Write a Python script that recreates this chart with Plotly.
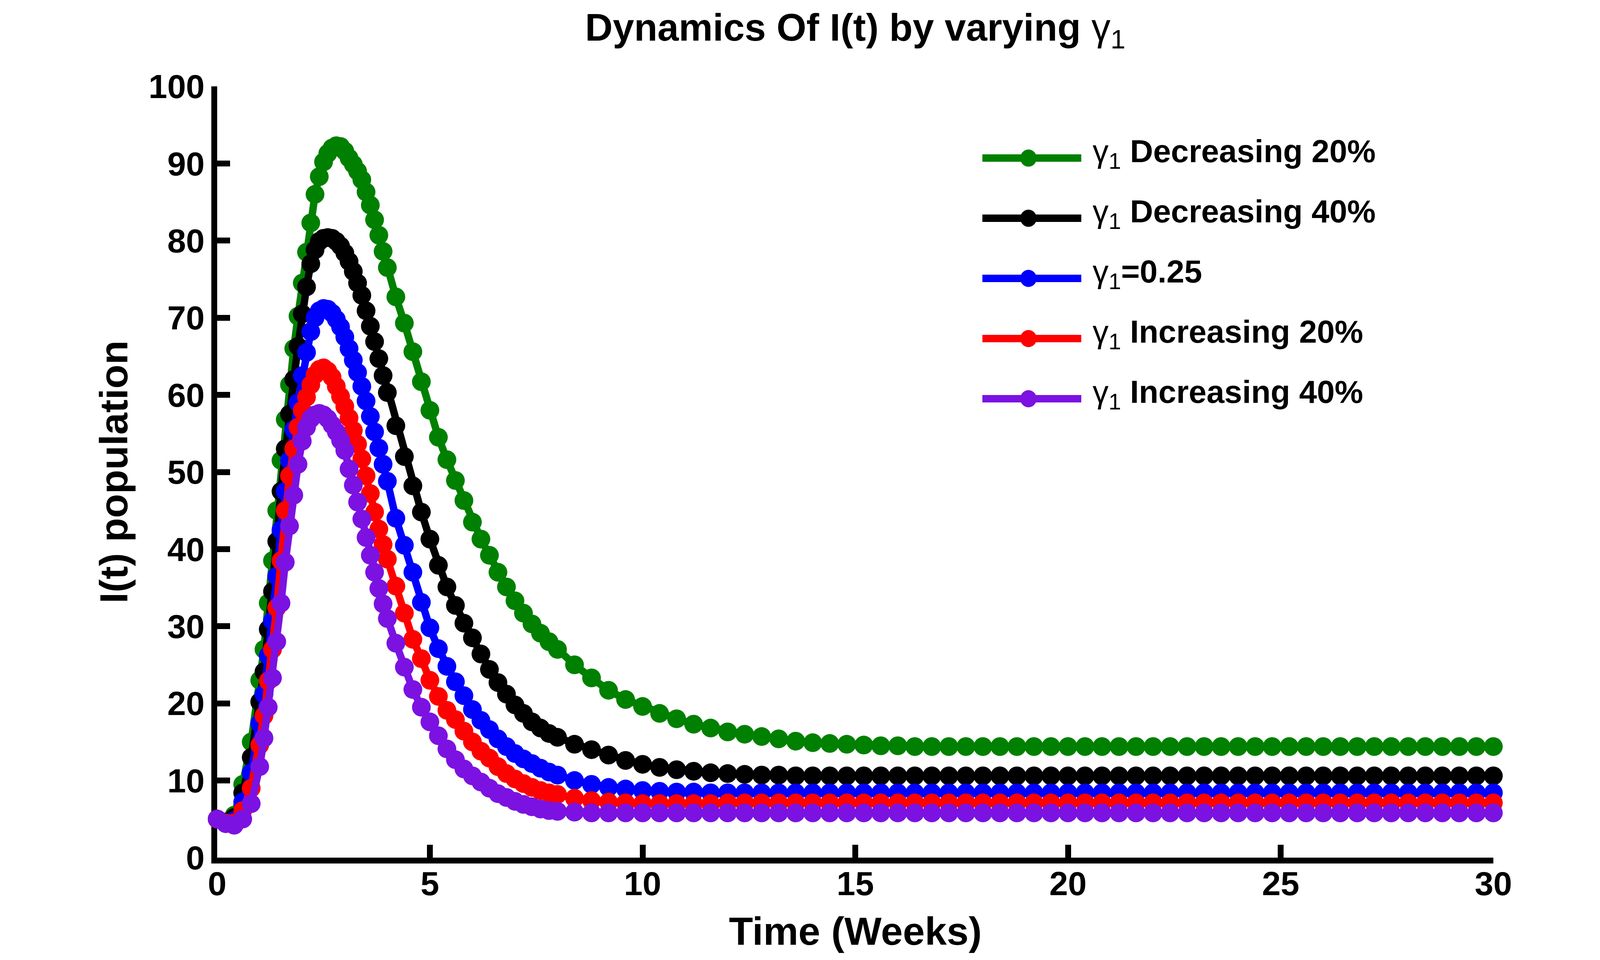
import plotly.graph_objects as go

# time grid (weeks) and I(t) readings for each gamma_1 setting
time_weeks = [
    0.0, 0.2, 0.4, 0.6, 0.8,
    1.0, 1.1, 1.2, 1.3, 1.4, 1.5, 1.6, 1.7, 1.8, 1.9,
    2.0, 2.1, 2.2, 2.3, 2.4, 2.5, 2.6, 2.7, 2.8, 2.9,
    3.0, 3.1, 3.2, 3.3, 3.4, 3.5, 3.6, 3.7, 3.8, 3.9, 4.0,
    4.2, 4.4, 4.6, 4.8, 5.0, 5.2, 5.4, 5.6, 5.8, 6.0,
    6.2, 6.4, 6.6, 6.8, 7.0, 7.2, 7.4, 7.6, 7.8, 8.0,
    8.4, 8.8, 9.2, 9.6, 10.0, 10.4, 10.8, 11.2, 11.6, 12.0,
    12.4, 12.8, 13.2, 13.6, 14.0, 14.4, 14.8, 15.2, 15.6, 16.0,
    16.4, 16.8, 17.2, 17.6, 18.0, 18.4, 18.8, 19.2, 19.6, 20.0,
    20.4, 20.8, 21.2, 21.6, 22.0, 22.4, 22.8, 23.2, 23.6, 24.0,
    24.4, 24.8, 25.2, 25.6, 26.0, 26.4, 26.8, 27.2, 27.6, 28.0,
    28.4, 28.8, 29.2, 29.6, 30.0,
]

dec_20 = [
    5.0, 4.6, 5.5, 9.5, 15.0,
    23.0, 27.0, 33.0, 38.5, 45.0, 51.5, 56.8, 61.3, 66.0, 70.2,
    74.5, 78.5, 82.3, 86.0, 88.3, 90.2, 91.3, 92.0, 92.3, 92.2,
    91.6, 90.7, 89.9, 89.0, 87.9, 86.3, 84.6, 82.7, 80.7, 78.6, 76.5,
    72.7, 69.3, 65.6, 61.7, 58.0, 54.5, 51.6, 48.9, 46.3, 43.5,
    41.3, 39.2, 37.0, 35.1, 33.3, 31.7, 30.3, 29.1, 28.0, 27.0,
    25.0, 23.3, 21.7, 20.5, 19.6, 18.7, 18.0, 17.3, 16.8, 16.3,
    16.0, 15.7, 15.4, 15.1, 14.9, 14.8, 14.7, 14.6, 14.5, 14.5,
    14.4, 14.4, 14.4, 14.4, 14.4, 14.4, 14.4, 14.4, 14.4, 14.4,
    14.4, 14.4, 14.4, 14.4, 14.4, 14.4, 14.4, 14.4, 14.4, 14.4,
    14.4, 14.4, 14.4, 14.4, 14.4, 14.4, 14.4, 14.4, 14.4, 14.4,
    14.4, 14.4, 14.4, 14.4, 14.4,
]

dec_40 = [
    5.0, 4.6, 5.2, 8.4, 13.0,
    20.2, 24.1, 29.6, 34.5, 41.0, 47.5, 53.0, 57.5, 62.0, 66.3,
    70.5, 74.0, 77.0, 78.8, 79.9, 80.3, 80.4, 80.3, 79.9, 79.3,
    78.4, 77.3, 76.0, 74.5, 72.9, 70.9, 68.9, 66.9, 64.7, 62.5, 60.3,
    56.0, 52.0, 48.2, 44.8, 41.3, 37.9, 35.1, 32.7, 30.4, 28.5,
    26.4, 24.4, 22.7, 21.2, 19.8, 18.7, 17.6, 16.8, 16.1, 15.6,
    14.7, 14.0, 13.3, 12.6, 12.1, 11.7, 11.4, 11.2, 11.0, 10.9,
    10.8, 10.7, 10.7, 10.6, 10.6, 10.6, 10.6, 10.6, 10.6, 10.6,
    10.6, 10.6, 10.6, 10.6, 10.6, 10.6, 10.6, 10.6, 10.6, 10.6,
    10.6, 10.6, 10.6, 10.6, 10.6, 10.6, 10.6, 10.6, 10.6, 10.6,
    10.6, 10.6, 10.6, 10.6, 10.6, 10.6, 10.6, 10.6, 10.6, 10.6,
    10.6, 10.6, 10.6, 10.6, 10.6,
]

baseline = [
    5.0, 4.5, 4.8, 7.2, 11.0,
    17.4, 21.2, 26.2, 30.7, 36.5, 42.5, 47.5, 51.5, 55.5, 59.0,
    62.5, 65.5, 68.2, 70.0, 70.9, 71.2, 71.1, 70.6, 69.8, 68.8,
    67.5, 66.0, 64.5, 62.9, 61.1, 59.2, 57.2, 55.2, 53.1, 51.0, 48.8,
    44.0, 40.5, 37.0, 33.1, 29.8, 27.1, 24.8, 22.8, 21.0, 19.2,
    17.8, 16.6, 15.4, 14.4, 13.5, 12.8, 12.2, 11.6, 11.1, 10.7,
    10.0, 9.5, 9.1, 8.9, 8.7, 8.6, 8.5, 8.5, 8.4, 8.4,
    8.4, 8.4, 8.4, 8.4, 8.4, 8.4, 8.4, 8.4, 8.4, 8.4,
    8.4, 8.4, 8.4, 8.4, 8.4, 8.4, 8.4, 8.4, 8.4, 8.4,
    8.4, 8.4, 8.4, 8.4, 8.4, 8.4, 8.4, 8.4, 8.4, 8.4,
    8.4, 8.4, 8.4, 8.4, 8.4, 8.4, 8.4, 8.4, 8.4, 8.4,
    8.4, 8.4, 8.4, 8.4, 8.4,
]

inc_20 = [
    5.0, 4.5, 4.5, 6.1, 9.0,
    14.6, 18.4, 22.9, 27.0, 32.4, 38.5, 45.0, 49.5, 53.0, 55.8,
    58.0, 59.7, 61.3, 62.6, 63.3, 63.5, 63.1, 62.3, 61.1, 59.8,
    58.5, 57.0, 55.4, 53.6, 51.7, 49.5, 47.2, 44.8, 42.6, 40.6, 38.7,
    35.2, 31.7, 28.3, 25.8, 23.0, 20.9, 19.1, 17.9, 16.4, 15.0,
    13.8, 12.9, 11.8, 10.9, 10.2, 9.6, 9.1, 8.7, 8.4, 8.2,
    7.7, 7.4, 7.2, 7.1, 7.0, 7.0, 7.0, 7.0, 7.0, 7.1,
    7.1, 7.1, 7.1, 7.1, 7.1, 7.1, 7.1, 7.1, 7.1, 7.1,
    7.1, 7.1, 7.1, 7.1, 7.1, 7.1, 7.1, 7.1, 7.1, 7.1,
    7.1, 7.1, 7.1, 7.1, 7.1, 7.1, 7.1, 7.1, 7.1, 7.1,
    7.1, 7.1, 7.1, 7.1, 7.1, 7.1, 7.1, 7.1, 7.1, 7.1,
    7.1, 7.1, 7.1, 7.1, 7.1,
]

inc_40 = [
    5.0, 4.4, 4.2, 5.0, 7.0,
    11.8, 15.5, 19.5, 23.3, 28.0, 33.0, 38.3, 43.0, 47.0, 51.0,
    54.0, 55.8, 56.9, 57.4, 57.6, 57.4, 56.9, 56.1, 55.2, 54.1,
    52.8, 50.4, 48.3, 46.1, 43.9, 41.5, 39.2, 37.0, 34.9, 32.9, 31.0,
    27.8, 24.7, 21.8, 19.5, 17.6, 15.8, 14.1, 12.7, 11.5, 10.6,
    9.8, 9.0, 8.3, 7.8, 7.3, 6.9, 6.6, 6.3, 6.1, 6.0,
    5.9, 5.8, 5.8, 5.8, 5.8, 5.8, 5.8, 5.8, 5.8, 5.8,
    5.8, 5.8, 5.8, 5.8, 5.8, 5.8, 5.8, 5.8, 5.8, 5.8,
    5.8, 5.8, 5.8, 5.8, 5.8, 5.8, 5.8, 5.8, 5.8, 5.8,
    5.8, 5.8, 5.8, 5.8, 5.8, 5.8, 5.8, 5.8, 5.8, 5.8,
    5.8, 5.8, 5.8, 5.8, 5.8, 5.8, 5.8, 5.8, 5.8, 5.8,
    5.8, 5.8, 5.8, 5.8, 5.8,
]

series = [dec_20, dec_40, baseline, inc_20, inc_40]
labels = [
    "γ<sub>1</sub> <b>Decreasing 20%</b>",
    "γ<sub>1</sub> <b>Decreasing 40%</b>",
    "γ<sub>1</sub><b>=0.25</b>",
    "γ<sub>1</sub> <b>Increasing 20%</b>",
    "γ<sub>1</sub> <b>Increasing 40%</b>",
]
colors = ["#008000", "#000000", "#0000ff", "#ff0000", "#7b12e2"]

FONT = "Liberation Sans"

fig = go.Figure()
for ys, lab, col in zip(series, labels, colors):
    fig.add_trace(go.Scatter(
        x=time_weeks, y=ys, name=lab, mode="lines+markers",
        line=dict(color=col, width=19),
        marker=dict(color=col, size=48, symbol="circle", line=dict(width=0)),
        cliponaxis=False, showlegend=False,
    ))

# hand-drawn legend (long line samples like the original)
legend_y = [0.907, 0.829, 0.751, 0.673, 0.595]
for ly, lab, col in zip(legend_y, labels, colors):
    fig.add_shape(type="line", xref="paper", yref="paper",
                  x0=0.5996, x1=0.6771, y0=ly, y1=ly,
                  line=dict(color=col, width=19))
    fig.add_shape(type="circle", xref="paper", yref="paper",
                  xsizemode="pixel", ysizemode="pixel",
                  xanchor=0.6357, yanchor=ly, x0=-21, x1=21, y0=-22, y1=22,
                  fillcolor=col, line=dict(width=0))
    fig.add_annotation(text=lab, xref="paper", yref="paper",
                       x=0.6853, y=ly, xanchor="left", yanchor="middle", yshift=12,
                       showarrow=False, font=dict(family=FONT, size=82, color="black"))

fig.add_annotation(text="<b>Time (Weeks)</b>", xref="paper", yref="paper",
                   x=0.5, y=-0.0952, xanchor="center", yanchor="middle",
                   showarrow=False, font=dict(family=FONT, size=101, color="black"))
fig.add_annotation(text="<b>I(t) population</b>", xref="paper", yref="paper",
                   x=-0.081, y=0.5, xanchor="center", yanchor="middle",
                   textangle=-90, showarrow=False,
                   font=dict(family=FONT, size=101, color="black"))

axis_style = dict(
    showline=True, linecolor="black", linewidth=15,
    ticks="inside", ticklen=33, tickwidth=15, tickcolor="black",
    showgrid=False, zeroline=False, layer="below traces",
    tickfont=dict(family=FONT, size=86, color="black", weight="bold"),
)

fig.update_xaxes(range=[0, 30], tickvals=[0, 5, 10, 15, 20, 25, 30],
                 ticklabelstandoff=-22, **axis_style)
fig.update_yaxes(range=[0, 100], tickvals=list(range(0, 101, 10)), **axis_style)

fig.update_layout(
    width=4216, height=2457,
    margin=dict(l=548, r=401, t=213, b=270),
    paper_bgcolor="white", plot_bgcolor="white",
    font=dict(family=FONT, color="black"),
    title=dict(text="<b>Dynamics Of I(t) by varying </b>γ<sub>1</sub>",
               x=0.5, xref="paper", xanchor="center",
               y=0.975, yref="container", yanchor="middle",
               font=dict(family=FONT, size=98, color="black")),
)

fig.write_html("out.html")
